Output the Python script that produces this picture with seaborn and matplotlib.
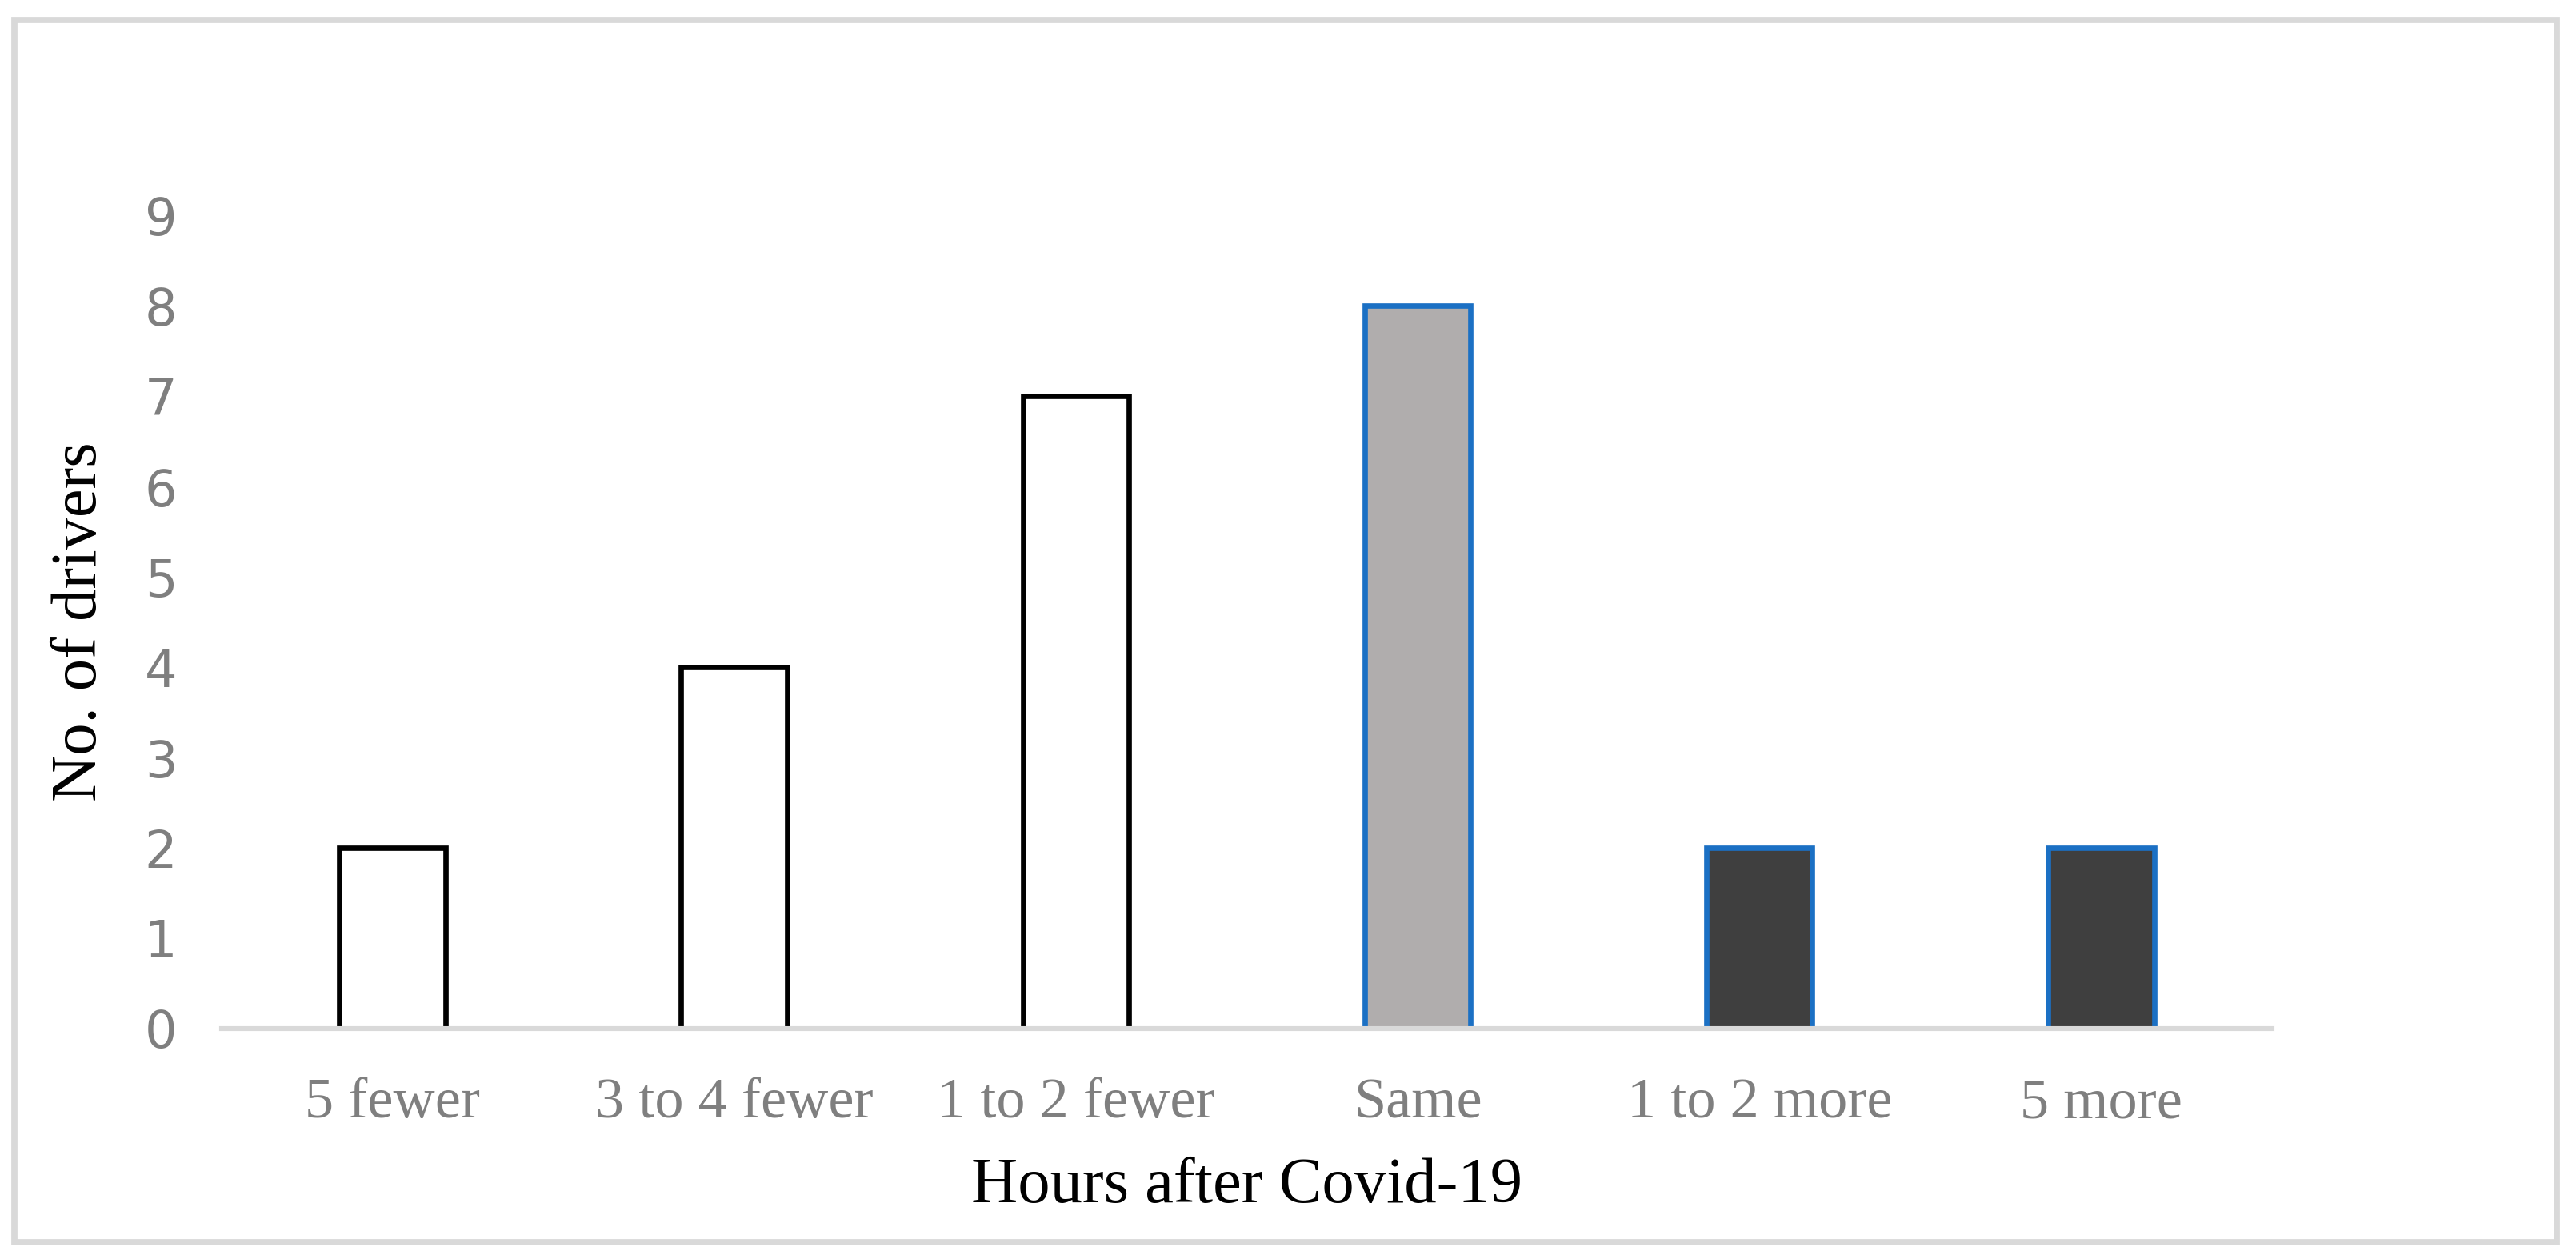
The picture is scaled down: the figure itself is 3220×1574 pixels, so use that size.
import matplotlib
matplotlib.use("Agg")
import matplotlib.pyplot as plt
import seaborn as sns
import pandas as pd
from matplotlib.patches import Rectangle

categories = ["5 fewer", "3 to 4 fewer", "1 to 2 fewer", "Same", "1 to 2 more", "5 more"]
drivers = [2, 4, 7, 8, 2, 2]
fill_colors = ["#FFFFFF", "#FFFFFF", "#FFFFFF", "#B0ADAD", "#3F3F3F", "#3F3F3F"]
edge_colors = ["#000000", "#000000", "#000000", "#1B70C4", "#1B70C4", "#1B70C4"]
y_ticks = list(range(0, 10))

sns.set_style("white")
plt.rcParams["font.family"] = ["DejaVu Sans"]

data = pd.DataFrame({"category": categories, "drivers": drivers})

fig = plt.figure(figsize=(16.1, 7.87), dpi=200)
ax = fig.add_axes([0.086, 0.183, 0.796, 0.646])

sns.barplot(data=data, x="category", y="drivers", hue="category",
            palette=fill_colors, legend=False, width=0.31, ax=ax,
            linewidth=2.4, saturation=1)
for bar, ec in zip(ax.patches, edge_colors):
    bar.set_edgecolor(ec)
    bar.set_linewidth(2.4)
    bar.set_zorder(2)

ax.set_ylim(0, 9)
ax.set_xlim(-0.5, len(categories) - 0.5)
ax.set_yticks(y_ticks)
ax.set_yticklabels([str(t) for t in y_ticks], fontsize=23, color="#7F7F7F")
ax.set_xticks(range(len(categories)))
ax.set_xticklabels(categories, fontsize=26, color="#7F7F7F",
                   family=["Liberation Serif", "DejaVu Serif"])
ax.tick_params(axis="x", length=0, pad=22)
ax.tick_params(axis="y", length=0, pad=20)

for side in ["top", "right", "left"]:
    ax.spines[side].set_visible(False)
ax.spines["bottom"].set_color("#D9D9D9")
ax.spines["bottom"].set_linewidth(2.2)
ax.spines["bottom"].set_zorder(3)

ax.set_xlabel("Hours after Covid-19", fontsize=29, color="black",
              family=["Liberation Serif", "DejaVu Serif"])
ax.xaxis.set_label_coords(0.5, -0.194)
ax.xaxis.label.set_va("center")
ax.set_ylabel("No. of drivers", fontsize=29, color="black",
              family=["Liberation Serif", "DejaVu Serif"])
ax.yaxis.set_label_coords(-0.069, 0.5)
ax.yaxis.label.set_va("center")

fig.patches.append(Rectangle((0.0055, 0.0135), 0.987, 0.9705, transform=fig.transFigure,
                             fill=False, edgecolor="#D9D9D9", linewidth=2.8))

fig.savefig("out.png", dpi=200, facecolor="white")
